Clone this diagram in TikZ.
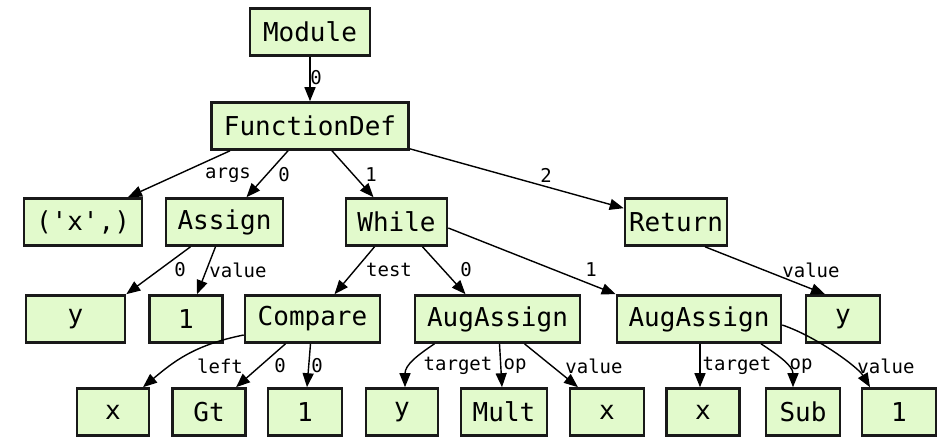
\documentclass[tikz,border=0pt]{standalone}
\usepackage{fontspec}
\usetikzlibrary{arrows.meta,calc}
\newfontfamily\astmono{DejaVu Sans Mono}
\definecolor{nodefill}{RGB}{226,250,204}
\definecolor{nodeedge}{RGB}{25,25,25}
\begin{document}
\begin{tikzpicture}[x=1pt,y=-1pt,
  astnode/.style={draw=nodeedge,line width=2.6pt,fill=nodefill,minimum height=47pt,
    inner sep=0pt,font=\astmono\fontsize{26}{26}\selectfont},
  edge/.style={line width=1.4pt,-{Triangle[length=14pt,width=11pt]}},
  elabel/.style={inner sep=0pt,font=\astmono\fontsize{19}{19}\selectfont}]
\useasboundingbox (0,0) rectangle (945,438);

% tree nodes
\node[astnode,minimum width=120pt] (mod) at (310,32) {Module};
\node[astnode,minimum width=197pt] (fd) at (310,126) {FunctionDef};

\node[astnode,minimum width=118pt] (args) at (83,222) {('x',)};
\node[astnode,minimum width=117pt] (asg) at (224.5,222) {Assign};
\node[astnode,minimum width=101pt] (wh) at (396.5,222) {While};
\node[astnode,minimum width=102pt] (ret) at (676,222) {Return};

\node[astnode,minimum width=99pt] (asy) at (75.5,319) {y};
\node[astnode,minimum width=73pt] (asv) at (186,319) {1};
\node[astnode,minimum width=135pt] (cmp) at (312.5,319) {Compare};
\node[astnode,minimum width=165pt] (aa1) at (497.5,319) {AugAssign};
\node[astnode,minimum width=164pt] (aa2) at (699,319) {AugAssign};
\node[astnode,minimum width=74pt] (rety) at (843,319) {y};

\node[astnode,minimum width=72pt] (cx) at (113,412) {x};
\node[astnode,minimum width=73pt] (cgt) at (209,412) {Gt};
\node[astnode,minimum width=74pt] (cone) at (305,412) {1};
\node[astnode,minimum width=72pt] (a1y) at (402,412) {y};
\node[astnode,minimum width=86pt] (a1m) at (504,412) {Mult};
\node[astnode,minimum width=74pt] (a1x) at (607,412) {x};
\node[astnode,minimum width=73pt] (a2x) at (703,412) {x};
\node[astnode,minimum width=74pt] (a2s) at (803,412) {Sub};
\node[astnode,minimum width=74pt] (a2o) at (899,412) {1};

% connectors
\draw[edge] (mod.south) -- (fd.north);
\draw[edge] ([xshift=-80pt]fd.south) -- ([xshift=45pt]args.north);
\draw[edge] ([xshift=-22pt]fd.south) -- ([xshift=22pt]asg.north);
\draw[edge] ([xshift=22pt]fd.south) -- ([xshift=-23pt]wh.north);
\draw[edge] ([yshift=2pt]fd.south east) -- ([yshift=-11pt]ret.north west);

\draw[edge] ([xshift=-34pt]asg.south) -- (asy.north east);
\draw[edge] ([xshift=-9pt]asg.south) -- ([xshift=11pt]asv.north);
\draw[edge] ([xshift=-22pt]wh.south) -- ([xshift=22pt]cmp.north);
\draw[edge] ([xshift=26pt]wh.south) -- ([xshift=-32pt]aa1.north);
\draw[edge] ([yshift=-6pt]wh.east) -- (aa2.north west);
\draw[edge] ([xshift=29pt]ret.south) -- ([xshift=-18pt]rety.north);

\draw[edge] ([yshift=-16pt]cmp.west) .. controls +(-50,10) and +(30,-25) .. ([xshift=30pt]cx.north);
\draw[edge] ([xshift=-27pt]cmp.south) -- ([xshift=27pt]cgt.north);
\draw[edge] ([xshift=-2pt]cmp.south) -- ([xshift=2pt]cone.north);

\draw[edge] ([xshift=-63pt]aa1.south) .. controls +(-18,12) and +(0,-22) .. ([xshift=3pt]a1y.north);
\draw[edge] ([xshift=2pt]aa1.south) -- ([xshift=-2pt]a1m.north);
\draw[edge] ([xshift=27pt]aa1.south) -- ([xshift=-29pt]a1x.north);

\draw[edge] ([xshift=1pt]aa2.south) -- ([xshift=-3pt]a2x.north);
\draw[edge] ([xshift=62pt]aa2.south) .. controls +(15,10) and +(0,-22) .. ([xshift=-10pt]a2s.north);
\draw[edge] ([yshift=-6pt]aa2.east) .. controls +(35,12) and +(-12,-20) .. ([xshift=-29pt]a2o.north);

% connector labels
\node[elabel] (l0) at (316,78) {0};
\node[elabel] (l1) at (228,175) {args};
\node[elabel] (l2) at (284,175) {0};
\node[elabel] (l3) at (371,175) {1};
\node[elabel] (l4) at (546,175) {2};
\node[elabel] (l5) at (180,270) {0};
\node[elabel] (l6) at (238,270) {value};
\node[elabel] (l7) at (389,270) {test};
\node[elabel] (l8) at (466,270) {0};
\node[elabel] (l9) at (591,270) {1};
\node[elabel] (l10) at (811,270) {value};
\node[elabel] (l11) at (220,366) {left};
\node[elabel] (l12) at (280,366) {0};
\node[elabel] (l13) at (317,366) {0};
\node[elabel] (l14) at (458,366) {target};
\node[elabel] (l15) at (515,366) {op};
\node[elabel] (l16) at (594,366) {value};
\node[elabel] (l17) at (737,366) {target};
\node[elabel] (l18) at (801,366) {op};
\node[elabel] (l19) at (886,366) {value};
\end{tikzpicture}
\end{document}
